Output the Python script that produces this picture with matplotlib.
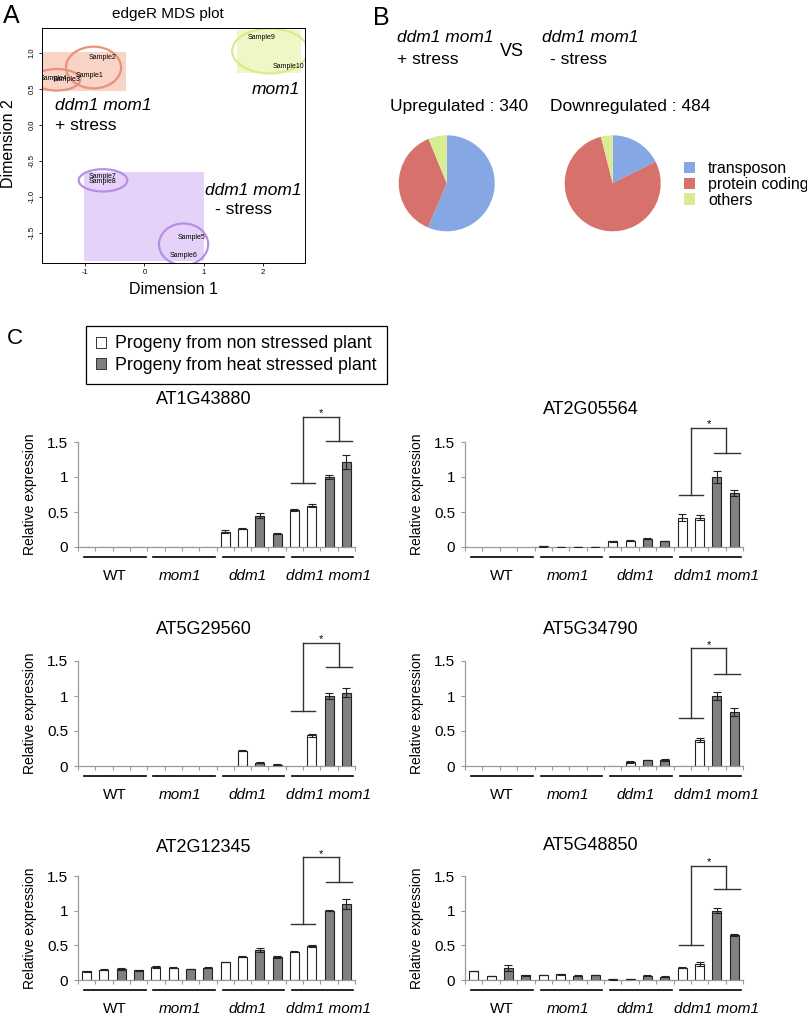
import numpy as np
import matplotlib
matplotlib.use('Agg')
import matplotlib.pyplot as plt
import matplotlib.transforms as mtransforms
from matplotlib.patches import Rectangle, Ellipse, Patch

plt.rcParams['font.family'] = ['Liberation Sans', 'DejaVu Sans']

W, H = 807, 1019

# ---- panel A: edgeR MDS plot ----
sample_names = ['Sample1', 'Sample2', 'Sample3', 'Sample4', 'Sample5',
                'Sample6', 'Sample7', 'Sample8', 'Sample9', 'Sample10']
mds_x = [-0.92, -0.70, -1.31, -1.54, 0.80, 0.66, -0.70, -0.70, 1.98, 2.43]
mds_y = [0.69, 0.94, 0.63, 0.65, -1.56, -1.81, -0.72, -0.79, 1.22, 0.81]

# shaded group boxes (x0, y0, width, height)
box_x = [-1.73, 1.57, -1.02]
box_y = [0.47, 0.72, -1.89]
box_w = [1.41, 1.07, 2.02]
box_h = [0.55, 0.60, 1.24]
box_colors = ['#f8d3c6', '#eff7c6', '#e5d2f8']

# ellipses round sample clusters
ell_x = [-0.86, -1.48, 2.12, -0.70, 0.66]
ell_y = [0.80, 0.63, 1.03, -0.77, -1.66]
ell_w = [0.93, 0.79, 1.28, 0.82, 0.83]
ell_h = [0.58, 0.30, 0.625, 0.31, 0.58]
ell_colors = ['#e8917c', '#e8917c', '#dcea8a', '#b98ce8', '#b98ce8']

# ---- panel B: pies ----
pie_labels = ['transposon', 'protein coding', 'others']
up_counts = [192, 127, 21]
down_counts = [85, 380, 19]
pie_colors = ['#85a7e3', '#d6716c', '#d9ec92']

# ---- panel C: qRT-PCR ----
groups = ['WT', 'mom1', 'ddm1', 'ddm1 mom1']
genes = ['AT1G43880', 'AT2G05564', 'AT5G29560', 'AT5G34790', 'AT2G12345', 'AT5G48850']

at1g43880_mean = [0.004, 0.004, 0.004, 0.004, 0.004, 0.004, 0.004, 0.004,
                  0.22, 0.26, 0.45, 0.19, 0.53, 0.59, 1.0, 1.22]
at1g43880_err = [0, 0, 0, 0, 0, 0, 0, 0,
                 0.02, 0.005, 0.04, 0.005, 0.02, 0.02, 0.03, 0.1]
at2g05564_mean = [0, 0, 0, 0, 0.01, 0.005, 0.005, 0.005,
                  0.08, 0.09, 0.12, 0.085, 0.42, 0.42, 1.0, 0.77]
at2g05564_err = [0, 0, 0, 0, 0.003, 0.002, 0.002, 0.002,
                 0.005, 0.008, 0.005, 0.005, 0.05, 0.04, 0.08, 0.04]
at5g29560_mean = [0, 0, 0, 0, 0, 0, 0, 0,
                  0, 0.22, 0.05, 0.02, 0, 0.44, 1.0, 1.05]
at5g29560_err = [0, 0, 0, 0, 0, 0, 0, 0,
                 0, 0.01, 0.01, 0.005, 0, 0.02, 0.04, 0.06]
at5g34790_mean = [0, 0, 0, 0, 0, 0, 0, 0,
                  0.004, 0.06, 0.085, 0.09, 0.004, 0.37, 1.0, 0.77]
at5g34790_err = [0, 0, 0, 0, 0, 0, 0, 0,
                 0, 0.01, 0.005, 0.015, 0, 0.03, 0.06, 0.06]
at2g12345_mean = [0.125, 0.15, 0.16, 0.14, 0.19, 0.18, 0.16, 0.18,
                  0.26, 0.335, 0.43, 0.33, 0.41, 0.49, 1.0, 1.1]
at2g12345_err = [0.005, 0.005, 0.02, 0.005, 0.01, 0.005, 0.005, 0.01,
                 0.005, 0.01, 0.03, 0.015, 0.005, 0.02, 0.01, 0.07]
at5g48850_mean = [0.13, 0.057, 0.17, 0.067, 0.07, 0.08, 0.06, 0.07,
                  0.01, 0.015, 0.06, 0.05, 0.18, 0.23, 1.0, 0.65]
at5g48850_err = [0.005, 0.005, 0.04, 0.005, 0.005, 0.01, 0.005, 0.005,
                 0.003, 0.003, 0.005, 0.005, 0.005, 0.03, 0.04, 0.02]

# significance bracket levels: left arm, top, right arm
brk_left = [0.91, 0.75, 0.79, 0.68, 0.81, 0.50]
brk_top = [1.86, 1.70, 1.76, 1.68, 1.77, 1.65]
brk_right = [1.51, 1.34, 1.41, 1.32, 1.41, 1.31]

bar_fill = ['white', 'white', '#808080', '#808080'] * 4


def add_ax(fig, left, top, right, bottom):
    return fig.add_axes([left / W, 1 - bottom / H, (right - left) / W, (bottom - top) / H])


def fx(px):
    return px / W


def fy(py):
    return 1 - py / H


fig = plt.figure(figsize=(W / 100, H / 100), dpi=100)

# ================= A =================
fig.text(fx(11), fy(16), 'A', fontsize=18, ha='center', va='center')
ax = add_ax(fig, 42, 28, 305, 263)
for x0, y0, w, h, c in zip(box_x, box_y, box_w, box_h, box_colors):
    ax.add_patch(Rectangle((x0, y0), w, h, facecolor=c, edgecolor='none', zorder=1))
for cx, cy, w, h, c in zip(ell_x, ell_y, ell_w, ell_h, ell_colors):
    ax.add_patch(Ellipse((cx, cy), w, h, facecolor='none', edgecolor=c, linewidth=1.6, zorder=2))
for name, x, y in zip(sample_names, mds_x, mds_y):
    ax.text(x, y, name, fontsize=5, ha='center', va='center', clip_on=True, zorder=3)
ax.set_xlim(-1.73, 2.71)
ax.set_ylim(-1.92, 1.35)
ax.set_xticks([-1, 0, 1, 2])
ax.set_xticklabels(['-1', '0', '1', '2'])
ax.set_yticks([-1.5, -1.0, -0.5, 0.0, 0.5, 1.0])
ax.set_yticklabels(['-1.5', '-1.0', '-0.5', '0.0', '0.5', '1.0'], rotation=90, va='center')
ax.tick_params(labelsize=5.5, length=2.5, width=0.6, pad=2)
for s in ax.spines.values():
    s.set_linewidth(0.7)
fig.text(fx(168), fy(14), 'edgeR MDS plot', fontsize=11, ha='center', va='center')
fig.text(fx(173), fy(290), 'Dimension 1', fontsize=11.5, ha='center', va='center')
fig.text(fx(9), fy(144), 'Dimension 2', fontsize=11.5, ha='center', va='center', rotation=90)
fig.text(fx(55), fy(106), 'ddm1 mom1', fontsize=12.5, style='italic', va='center')
fig.text(fx(55), fy(125), '+ stress', fontsize=12.5, va='center')
fig.text(fx(300), fy(89), 'mom1', fontsize=12.5, style='italic', ha='right', va='center')
fig.text(fx(205), fy(190), 'ddm1 mom1', fontsize=12.5, style='italic', va='center')
fig.text(fx(215), fy(210), '- stress', fontsize=12.5, va='center')

# ================= B =================
fig.text(fx(381), fy(18), 'B', fontsize=18, ha='center', va='center')
fig.text(fx(397), fy(38), 'ddm1 mom1', fontsize=12.5, style='italic', va='center')
fig.text(fx(397), fy(59), '+ stress', fontsize=12.5, va='center')
fig.text(fx(512), fy(52), 'VS', fontsize=13, ha='center', va='center')
fig.text(fx(542), fy(38), 'ddm1 mom1', fontsize=12.5, style='italic', va='center')
fig.text(fx(550), fy(59), '- stress', fontsize=12.5, va='center')
fig.text(fx(390), fy(107), 'Upregulated : 340', fontsize=12.5, va='center')
fig.text(fx(550), fy(107), 'Downregulated : 484', fontsize=12.5, va='center')

for counts, cx in [(up_counts, 446.7), (down_counts, 612.7)]:
    r = 48
    pax = add_ax(fig, cx - r, 183.3 - r, cx + r, 183.3 + r)
    pax.pie(counts, colors=pie_colors, startangle=90, counterclock=False,
            wedgeprops=dict(linewidth=0))
    pax.set_xlim(-1, 1)
    pax.set_ylim(-1, 1)

handles = [Patch(facecolor=c, edgecolor='none') for c in pie_colors]
fig.legend(handles, pie_labels, loc='upper left', bbox_to_anchor=(fx(684), fy(161)),
           frameon=False, fontsize=11.5, handlelength=0.7, handleheight=0.7,
           handletextpad=0.8, labelspacing=0.05, borderpad=0, borderaxespad=0)

# ================= C =================
fig.text(fx(15), fy(339), 'C', fontsize=16, ha='center', va='center')
leg_handles = [Patch(facecolor='white', edgecolor='#333333', linewidth=0.7),
               Patch(facecolor='#808080', edgecolor='#333333', linewidth=0.7)]
leg = fig.legend(leg_handles, ['Progeny from non stressed plant', 'Progeny from heat stressed plant'],
                 loc='upper left', bbox_to_anchor=(fx(86), fy(325.7)), fontsize=12.8,
                 frameon=True, fancybox=False, edgecolor='black', framealpha=1,
                 handlelength=0.6, handleheight=0.6, handletextpad=0.5,
                 borderpad=0.55, labelspacing=0.25, borderaxespad=0)
leg.get_frame().set_linewidth(0.9)

means = [at1g43880_mean, at2g05564_mean, at5g29560_mean,
         at5g34790_mean, at2g12345_mean, at5g48850_mean]
errs = [at1g43880_err, at2g05564_err, at5g29560_err,
        at5g34790_err, at2g12345_err, at5g48850_err]

col_x = [(78, 355), (465, 743)]
row_y = [(442, 547), (661, 766), (876, 980)]
title_dy = [42, 32, 32, 32, 29, 31]
label_x = [1.6, 5.4, 9.3, 13.95]

for i, gene in enumerate(genes):
    left, right = col_x[i % 2]
    top, bottom = row_y[i // 2]
    ax = add_ax(fig, left, top, right, bottom)
    x = np.arange(16)
    m = np.array(means[i])
    edges = ['#222222' if v > 0.003 else 'none' for v in m]
    ax.bar(x, m, width=0.52, color=bar_fill, edgecolor=edges, linewidth=0.8, zorder=2)
    e = np.array(errs[i])
    has = e > 0
    ax.errorbar(x[has], m[has], yerr=e[has], fmt='none', ecolor='#222222',
                elinewidth=0.8, capsize=3.2, capthick=0.8, zorder=3)
    ax.set_xlim(-0.5, 15.5)
    ax.set_ylim(0, 1.5)
    ax.set_yticks([0, 0.5, 1, 1.5])
    ax.set_yticklabels(['0', '0.5', '1', '1.5'])
    ax.set_xticks(np.arange(-0.5, 16, 1))
    ax.set_xticklabels([])
    for s in ['top', 'right']:
        ax.spines[s].set_visible(False)
    for s in ['left', 'bottom']:
        ax.spines[s].set_color('#9a9a9a')
        ax.spines[s].set_linewidth(0.9)
    ax.tick_params(colors='#9a9a9a', labelcolor='black', length=3, width=0.8,
                   labelsize=11, pad=4)

    w_px = right - left
    h_px = bottom - top
    ax.text(0.5 - 13 / w_px, 1 + title_dy[i] / h_px, gene, transform=ax.transAxes,
            ha='center', va='center', fontsize=13)
    fig.text(fx(left - 48), fy((top + bottom) / 2), 'Relative expression',
             rotation=90, ha='center', va='center', fontsize=10)

    # group underlines and labels
    trans = mtransforms.blended_transform_factory(ax.transData, ax.transAxes)
    for g, gname in enumerate(groups):
        ax.plot([4 * g - 0.15, 4 * g + 3.4], [-10 / h_px] * 2, transform=trans,
                color='black', linewidth=1.2, clip_on=False)
        ax.text(label_x[g], -29 / h_px, gname, transform=trans, ha='center', va='center',
                fontsize=11, style='normal' if gname == 'WT' else 'italic')

    # significance bracket
    xl, xr = 12.5, 14.55
    bc = '#333333'
    kw = dict(color=bc, linewidth=1.0, clip_on=False, zorder=4)
    ax.plot([xl - 0.7, xl + 0.7], [brk_left[i]] * 2, **kw)
    ax.plot([xl, xl], [brk_left[i], brk_top[i]], **kw)
    ax.plot([xl, xr], [brk_top[i]] * 2, **kw)
    ax.plot([xr, xr], [brk_top[i], brk_right[i]], **kw)
    ax.plot([xr - 0.7, xr + 0.75], [brk_right[i]] * 2, **kw)
    ax.text((xl + xr) / 2, brk_top[i] + 0.01, '*', ha='center', va='baseline',
            fontsize=8, clip_on=False)

fig.savefig('out.png', dpi=100)
